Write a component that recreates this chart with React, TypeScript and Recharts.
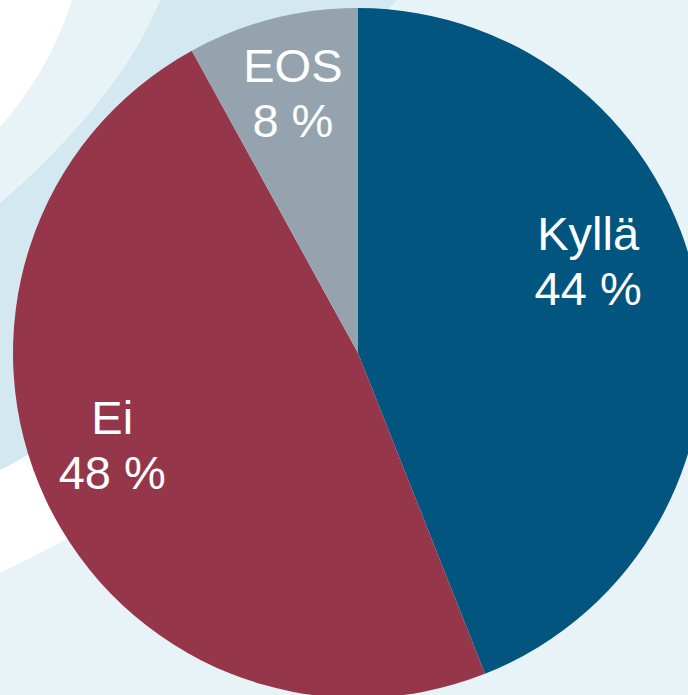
import { PieChart, Pie, Cell } from 'recharts';

const categories = ['Kyllä', 'Ei', 'EOS'];
const shares = [44, 48, 8];
const sliceColors = ['#02557F', '#96364A', '#94A3AE'];

// label placement tweaks (angle offset in degrees, radius as share of outer radius)
const labelAngleNudge: Record<string, number> = { 'Kyllä': 11.3, Ei: -4.8, EOS: -0.4 };
const labelRadius: Record<string, number> = { 'Kyllä': 0.72, Ei: 0.76, EOS: 0.78 };

const data = categories.map((name, i) => ({ name, value: shares[i] }));

const RAD = Math.PI / 180;

const renderLabel = (props: any) => {
  const { cx, cy, midAngle, outerRadius, name, value } = props;
  const angle = midAngle + (labelAngleNudge[name] ?? 0);
  const r = outerRadius * (labelRadius[name] ?? 0.75);
  const x = cx + r * Math.cos(-angle * RAD);
  const y = cy + r * Math.sin(-angle * RAD);
  return (
    <text
      x={x}
      y={y}
      textAnchor="middle"
      fill="#FFFFFF"
      fontFamily="'Liberation Sans', Arial, sans-serif"
      fontSize={47}
    >
      <tspan x={x} y={y - 10}>{name}</tspan>
      <tspan x={x} y={y + 45}>{`${value} %`}</tspan>
    </text>
  );
};

function Backdrop() {
  return (
    <svg width={688} height={695} style={{ position: 'absolute', left: 0, top: 0 }}>
      <rect x={0} y={0} width={688} height={695} fill="#E8F3F8" />
      {/* white swoosh, lower edge visible at bottom left */}
      <path d="M0,573 Q200,480 350,300 L350,0 L0,0 Z" fill="#FFFFFF" />
      {/* darker band around the top-left of the pie */}
      <path d="M160,0 L397,0 C250,150 150,400 0,470 L0,203 Q120,98 160,0 Z" fill="#D4E8F1" />
      {/* lighter band and white corner, top left */}
      <path d="M0,0 L160,0 Q120,98 0,203 Z" fill="#E8F3F8" />
      <path d="M0,0 L72,0 Q50,70 0,127 Z" fill="#FFFFFF" />
    </svg>
  );
}

export default function App() {
  return (
    <div style={{ position: 'absolute', left: 0, top: 0, width: 688, height: 695, overflow: 'hidden' }}>
      <Backdrop />
      <div style={{ position: 'absolute', left: 0, top: 0 }}>
        <PieChart width={688} height={695} margin={{ top: 0, right: 0, bottom: 0, left: 0 }}>
          <Pie
            data={data}
            dataKey="value"
            nameKey="name"
            cx={358}
            cy={353}
            outerRadius={345}
            startAngle={90}
            endAngle={-270}
            stroke="none"
            labelLine={false}
            label={renderLabel}
            isAnimationActive={false}
          >
            {data.map((d, i) => (
              <Cell key={d.name} fill={sliceColors[i]} />
            ))}
          </Pie>
        </PieChart>
      </div>
    </div>
  );
}
